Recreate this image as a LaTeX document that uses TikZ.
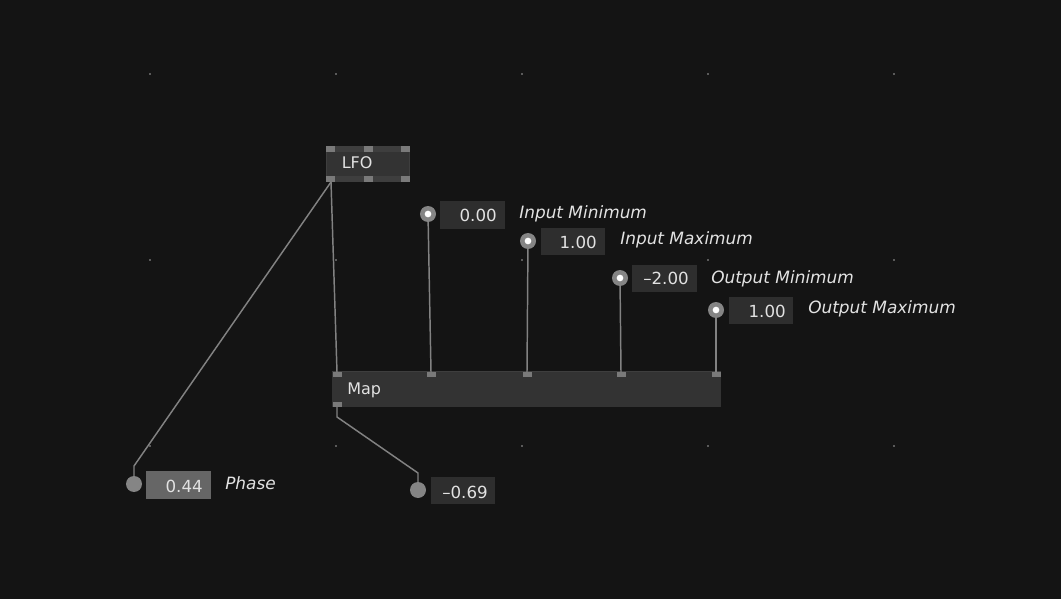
\documentclass[tikz,border=0pt]{standalone}
\usepackage{fontspec}
\setmainfont{DejaVu Sans}
\definecolor{bg}{HTML}{141414}
\definecolor{wire}{HTML}{828282}
\definecolor{boxc}{HTML}{333333}
\definecolor{boxedge}{HTML}{3E3E3E}
\definecolor{pinc}{HTML}{7A7A7A}
\definecolor{knobc}{HTML}{858585}
\definecolor{txt}{HTML}{E2E2E2}
\definecolor{valbox}{HTML}{2E2E2E}
\definecolor{valboxlight}{HTML}{666666}
\definecolor{dotc}{HTML}{5A5A5A}
\begin{document}
\begin{tikzpicture}[x=0.75pt,y=-0.75pt,
  wirestyle/.style={draw=wire,line width=1.1pt},
  pin/.style={fill=pinc,draw=none},
  valtext/.style={text=txt,anchor=base east,inner sep=0pt,font=\fontsize{12.5}{14}\selectfont},
  lbl/.style={text=txt,anchor=base west,inner sep=0pt,font=\fontsize{12.7}{14}\selectfont\itshape},
  title/.style={text=txt,anchor=base west,inner sep=0pt,font=\fontsize{12}{14}\selectfont},
  knob/.style={circle,fill=knobc,minimum size=12pt,inner sep=0pt},
  knobdot/.style={circle,fill=white,minimum size=5pt,inner sep=0pt},
  griddot/.style={fill=dotc,draw=none}
]
\fill[bg] (0,0) rectangle (1061,599);
\useasboundingbox (0,0) rectangle (1061,599);
% grid dots
\foreach \gx in {150,336,522,708,894}
  \foreach \gy in {74,260,446}
    \fill[griddot] (\gx-0.7,\gy-0.7) rectangle (\gx+0.7,\gy+0.7);

% LFO node
\fill[boxedge] (326,146) rectangle (410,182);
\fill[boxc] (327,152) rectangle (409,176);
\node[title] (lfo) at (341.5,169) {LFO};
\fill[pin] (326,146) rectangle (335,152);
\fill[pin] (364,146) rectangle (373,152);
\fill[pin] (401,146) rectangle (410,152);
\fill[pin] (326,176) rectangle (335,182);
\fill[pin] (364,176) rectangle (373,182);
\fill[pin] (401,176) rectangle (410,182);
\coordinate (lfoout) at (331,182);

% Map node
\fill[boxc] (332,371) rectangle (721,407);
\draw[boxedge,line width=0.75pt] (332,371.5) -- (721,371.5);
\node[title] (map) at (347,394) {Map};
\foreach \px/\nm in {337/m1,431/m2,527/m3,621/m4,716/m5}{
  \fill[pin] (\px-4.5,372) rectangle (\px+4.5,377);
  \coordinate (\nm) at (\px,372);
}
\fill[pin] (332.5,402) rectangle (341.5,407);
\coordinate (mapout) at (337,407);

% Knob coordinates
\coordinate (k1) at (428,214);
\coordinate (k2) at (528,241);
\coordinate (k3) at (620,278);
\coordinate (k4) at (716,310);
\coordinate (ph) at (134,484);
\coordinate (outk) at (418,490);

% wires
\draw[wirestyle] (lfoout) -- (m1);
\draw[wirestyle] (lfoout) -- (134,466) -- (ph);
\draw[wirestyle] (k1) -- (m2);
\draw[wirestyle] (k2) -- (m3);
\draw[wirestyle] (k3) -- (m4);
\draw[wirestyle] (k4) -- (m5);
\draw[wirestyle] (mapout) -- (337,417) -- (418,473) -- (outk);

% knobs
\foreach \k/\n in {k1/kn1,k2/kn2,k3/kn3,k4/kn4}{
  \node[knob] (\n) at (\k) {};
  \node[knobdot] at (\k) {};
}
\node[knob] (phk) at (ph) {};
\node[knob] (outkn) at (outk) {};

% value boxes
\fill[valbox] (440,201) rectangle (505,229);
\node[valtext] (v1) at (497,222) {0.00};
\fill[valbox] (541,228) rectangle (605,255);
\node[valtext] (v2) at (597,248) {1.00};
\fill[valbox] (632,265) rectangle (697,292);
\node[valtext] (v3) at (689,285) {–2.00};
\fill[valbox] (729,297) rectangle (793,324);
\node[valtext] (v4) at (786,317) {1.00};
\fill[valboxlight] (146,471) rectangle (211,499);
\node[valtext] (vph) at (203,492) {0.44};
\fill[valbox] (431,477) rectangle (495,504);
\node[valtext] (vout) at (488,498) {–0.69};

% labels
\node[lbl] (l1) at (519,219) {Input Minimum};
\node[lbl] (l2) at (620,245) {Input Maximum};
\node[lbl] (l3) at (711,283) {Output Minimum};
\node[lbl] (l4) at (808,314) {Output Maximum};
\node[lbl] (lph) at (225,489) {Phase};
\end{tikzpicture}
\end{document}
